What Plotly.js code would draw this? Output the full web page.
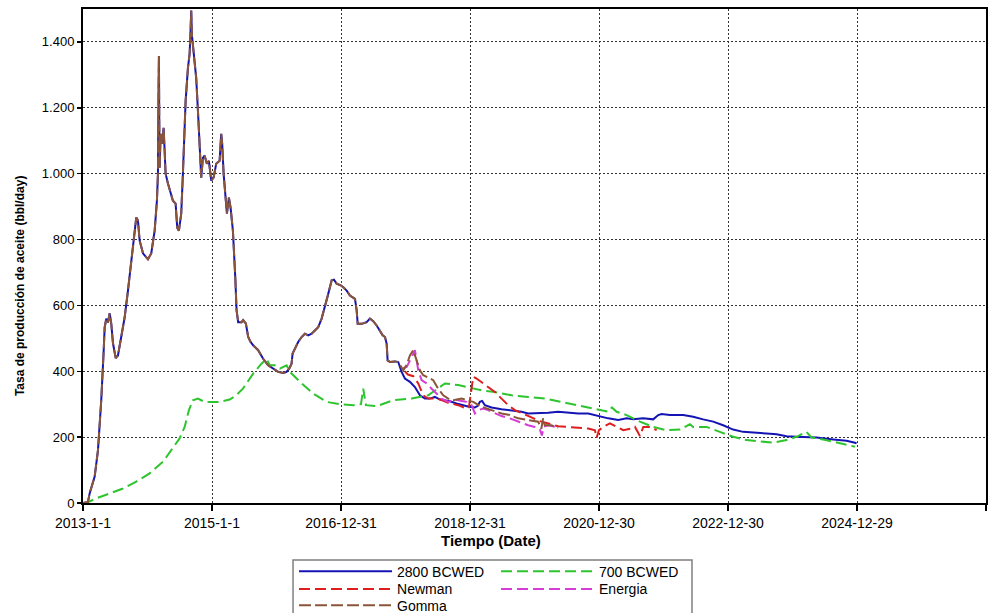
<!DOCTYPE html>
<html>
<head>
<meta charset="utf-8">
<script src="https://cdn.plot.ly/plotly-3.0.1.min.js"></script>
<style>html,body{margin:0;padding:0;background:#fff;}#chart{width:1001px;height:613px;}</style>
</head>
<body>
<div id="chart"></div>
<script>
// x values are decimal years, y values in bbl/day
const histYears = [2013.0,2013.077,2013.104,2013.181,2013.232,2013.283,2013.321,2013.336,2013.361,2013.387,2013.414,2013.438,2013.465,2013.507,2013.542,2013.593,2013.646,2013.697,2013.748,2013.801,2013.826,2013.852,2013.878,2013.930,2014.007,2014.058,2014.111,2014.146,2014.162,2014.171,2014.177,2014.183,2014.188,2014.204,2014.229,2014.250,2014.266,2014.281,2014.317,2014.352,2014.394,2014.436,2014.461,2014.487,2014.523,2014.549,2014.591,2014.627,2014.653,2014.665,2014.678,2014.689,2014.704,2014.730,2014.755,2014.782,2014.808,2014.833,2014.859,2014.885,2014.921,2014.952,2014.988,2015.025,2015.065,2015.118,2015.143,2015.158,2015.180,2015.211,2015.231,2015.262,2015.288,2015.324,2015.350,2015.362,2015.381,2015.406,2015.459,2015.483,2015.525,2015.561,2015.598,2015.638,2015.716,2015.793,2015.871,2015.948,2016.026,2016.103,2016.156,2016.196,2016.233,2016.249,2016.284,2016.335,2016.388,2016.439,2016.490,2016.543,2016.594,2016.645,2016.698,2016.749,2016.800,2016.853,2016.888,2016.930,2016.992,2017.033,2017.085,2017.136,2017.187,2017.214,2017.240,2017.256,2017.318,2017.395,2017.446,2017.497,2017.550,2017.601,2017.643,2017.679,2017.705,2017.720,2017.756,2017.833,2017.885];
const histRate = [0,3,30,80,160,312,464,533,560,548,576,545,485,440,448,503,564,645,736,836,867,858,797,758,740,758,827,918,1000,1250,1357,1150,1018,1121,1091,1139,1048,1000,970,948,918,909,836,827,879,1000,1221,1321,1364,1420,1495,1420,1394,1352,1291,1191,1070,988,1048,1055,1030,1039,979,988,1030,1039,1121,1091,1000,927,879,927,897,827,745,680,585,549,549,555,545,504,489,479,464,438,418,408,398,395,398,408,423,454,469,489,504,514,509,514,524,534,560,595,635,676,678,666,661,655,645,630,625,620,585,544,544,549,560,552,539,524,509,504,484,433,428,430,428];

const bcwed2800Years = [2017.937,2017.988,2018.066,2018.143,2018.221,2018.298,2018.376,2018.453,2018.531,2018.608,2018.686,2018.789,2018.892,2018.980,2019.073,2019.119,2019.150,2019.186,2019.228,2019.332,2019.486,2019.641,2019.796,2019.899,2020.054,2020.208,2020.363,2020.518,2020.673,2020.828,2020.983,2021.138,2021.293,2021.423,2021.525,2021.680,2021.835,2021.913,2021.965,2022.094,2022.300,2022.455,2022.610,2022.765,2022.919,2023.074,2023.229,2023.384,2023.592,2023.747,2023.902,2024.057,2024.211,2024.366,2024.624,2024.831,2024.960,2024.986];
const bcwed2800Rate = [398,378,368,352,327,317,317,322,314,312,309,302,297,292,290,295,307,310,297,290,285,282,277,272,272,274,277,274,272,272,264,257,252,257,254,257,254,267,270,267,267,262,254,247,236,223,216,213,211,209,203,201,201,199,193,189,183,181];

const bcwed700Years = [2013.0,2013.051,2013.206,2013.414,2013.620,2013.826,2014.033,2014.239,2014.394,2014.498,2014.576,2014.642,2014.704,2014.782,2014.885,2014.988,2015.118,2015.273,2015.375,2015.479,2015.638,2015.768,2015.846,2015.897,2015.974,2016.052,2016.156,2016.207,2016.362,2016.568,2016.775,2016.981,2017.188,2017.307,2017.342,2017.384,2017.550,2017.807,2018.092,2018.349,2018.453,2018.608,2018.814,2018.969,2019.177,2019.383,2019.641,2019.899,2020.158,2020.416,2020.673,2020.932,2021.138,2021.195,2021.268,2021.423,2021.629,2021.835,2022.042,2022.249,2022.403,2022.455,2022.662,2022.868,2023.074,2023.282,2023.488,2023.694,2023.902,2024.057,2024.211,2024.289,2024.469,2024.676,2024.831,2024.960];
const bcwed700Rate = [0,0,14,29,44,65,90,125,166,196,231,282,312,317,307,307,307,314,327,347,393,423,438,418,418,408,418,398,368,332,307,300,297,300,347,297,294,312,317,327,342,363,358,352,342,337,327,322,317,307,297,285,277,290,277,267,247,231,221,223,239,231,231,216,201,191,186,183,191,201,216,199,193,183,176,171];

const newmanYears = [2017.988,2018.035,2018.118,2018.195,2018.272,2018.349,2018.504,2018.659,2018.814,2018.943,2018.980,2019.011,2019.047,2019.099,2019.202,2019.306,2019.383,2019.486,2019.589,2019.693,2019.822,2019.951,2020.054,2020.208,2020.363,2020.518,2020.673,2020.828,2020.932,2020.958,2020.994,2021.061,2021.164,2021.268,2021.371,2021.501,2021.552,2021.598,2021.629,2021.681,2021.785,2021.888];
const newmanRate = [400,390,385,363,327,317,317,304,297,287,290,342,383,378,363,347,337,317,297,282,272,260,250,242,233,231,228,226,221,198,221,231,242,231,221,226,231,215,203,231,231,221];

const energiaYears = [2017.963,2018.016,2018.093,2018.143,2018.170,2018.195,2018.247,2018.325,2018.402,2018.480,2018.557,2018.659,2018.763,2018.867,2018.944,2019.022,2019.073,2019.124,2019.202,2019.279,2019.383,2019.486,2019.615,2019.744,2019.899,2020.003,2020.080,2020.111,2020.142,2020.208,2020.363];
const energiaRate = [410,413,443,464,433,403,373,363,347,332,317,307,314,310,307,297,272,282,287,282,272,264,257,247,236,231,224,205,232,236,229];

const gommaYears = [2017.963,2018.016,2018.066,2018.118,2018.170,2018.221,2018.272,2018.376,2018.427,2018.504,2018.582,2018.659,2018.737,2018.867,2018.969,2019.047,2019.177,2019.332,2019.486,2019.615,2019.744,2019.899,2020.054,2020.103,2020.130,2020.156,2020.259,2020.363];
const gommaRate = [403,420,448,464,433,403,388,378,373,347,327,317,312,317,312,307,292,282,272,267,257,252,247,225,257,236,236,229];

const tickDates = ['2013-01-01','2015-01-01','2016-12-31','2018-12-31','2020-12-30','2022-12-30','2024-12-29','2026-12-29'];
const tickLabels = ['2013-1-1','2015-1-1','2016-12-31','2018-12-31','2020-12-30','2022-12-30','2024-12-29','2026-12-29'];

function yearToDate(y){
  const yr = Math.floor(y);
  const s = Date.UTC(yr,0,1), e = Date.UTC(yr+1,0,1);
  return new Date(s + (y-yr)*(e-s)).toISOString().slice(0,19).replace('T',' ');
}
const dates = a => a.map(yearToDate);

const font = 'Liberation Sans, Arial, sans-serif';
const traces = [
  {name:'2800 BCWED', x:dates(histYears.concat(bcwed2800Years)), y:histRate.concat(bcwed2800Rate), mode:'lines',
   line:{color:'#1414b4', width:2}, legend:'legend'},
  {name:'700 BCWED', x:dates(bcwed700Years), y:bcwed700Rate, mode:'lines',
   line:{color:'#2ec42e', width:2, dash:'11px,5px'}, legend:'legend2'},
  {name:'Newman', x:dates(newmanYears), y:newmanRate, mode:'lines',
   line:{color:'#dc1e1e', width:2, dash:'11px,5px'}, legend:'legend3'},
  {name:'Energia', x:dates(energiaYears), y:energiaRate, mode:'lines',
   line:{color:'#d63cd6', width:2, dash:'11px,5px'}, legend:'legend4'},
  {name:'Gomma', x:dates(histYears.concat(gommaYears)), y:histRate.concat(gommaRate), mode:'lines',
   line:{color:'#8a5538', width:2, dash:'12px,4px'}, legend:'legend5'}
];

function leg(x, y){
  return {x:x, y:y, orientation:'v', xanchor:'left', yanchor:'middle', bgcolor:'rgba(0,0,0,0)', borderwidth:0,
    font:{family:font, size:14, color:'#000'}, itemwidth:93, tracegroupgap:0};
}

const layout = {
  width:1001, height:613,
  margin:{l:83, r:15, t:9, b:110, autoexpand:false},
  paper_bgcolor:'#fff', plot_bgcolor:'#fff',
  separators:',.',
  font:{family:font, size:12, color:'#000'},
  showlegend:true,
  xaxis:{type:'date', range:['2013-01-01','2026-12-29'], tickmode:'array', tickvals:tickDates, ticktext:tickLabels,
    showgrid:true, gridcolor:'#333', griddash:'2px,2px', gridwidth:1,
    showline:true, linecolor:'#000', linewidth:2, mirror:true,
    ticks:'outside', ticklen:6, tickcolor:'#000', tickwidth:1.5,
    tickfont:{family:font, size:14, color:'#000'}, zeroline:false, fixedrange:true},
  yaxis:{range:[0,1500], tick0:0, dtick:200, separatethousands:true, tickformat:',d',
    showgrid:true, gridcolor:'#333', griddash:'2px,2px', gridwidth:1,
    showline:true, linecolor:'#000', linewidth:2, mirror:true,
    ticks:'outside', ticklen:4, tickcolor:'#000', tickwidth:1.5,
    tickfont:{family:font, size:13, color:'#000'}, zeroline:false, fixedrange:true},
  legend:leg(0.2337, -0.1391),
  legend2:leg(0.4574, -0.1391),
  legend3:leg(0.2337, -0.1747),
  legend4:leg(0.4574, -0.1747),
  legend5:leg(0.2337, -0.2079),
  shapes:[{type:'rect', xref:'paper', yref:'paper', x0:0.2326, x1:0.6744, y0:-0.24, y1:-0.1154,
    line:{color:'#7f7f7f', width:1.5}, fillcolor:'rgba(0,0,0,0)', layer:'above'}],
  annotations:[
    {text:'<b>Tiempo (Date)</b>', xref:'paper', yref:'paper', x:0.452, y:-0.0769, xanchor:'center', yanchor:'middle',
     showarrow:false, font:{family:font, size:15, color:'#000'}},
    {text:'<b>Tasa de producción de aceite (bbl/day)</b>', xref:'paper', yref:'paper', x:-0.0698, y:0.441,
     xanchor:'center', yanchor:'middle', textangle:-90, showarrow:false, font:{family:font, size:12, color:'#000'}}
  ]
};

Plotly.newPlot('chart', traces, layout, {staticPlot:true, displayModeBar:false});
</script>
</body>
</html>
